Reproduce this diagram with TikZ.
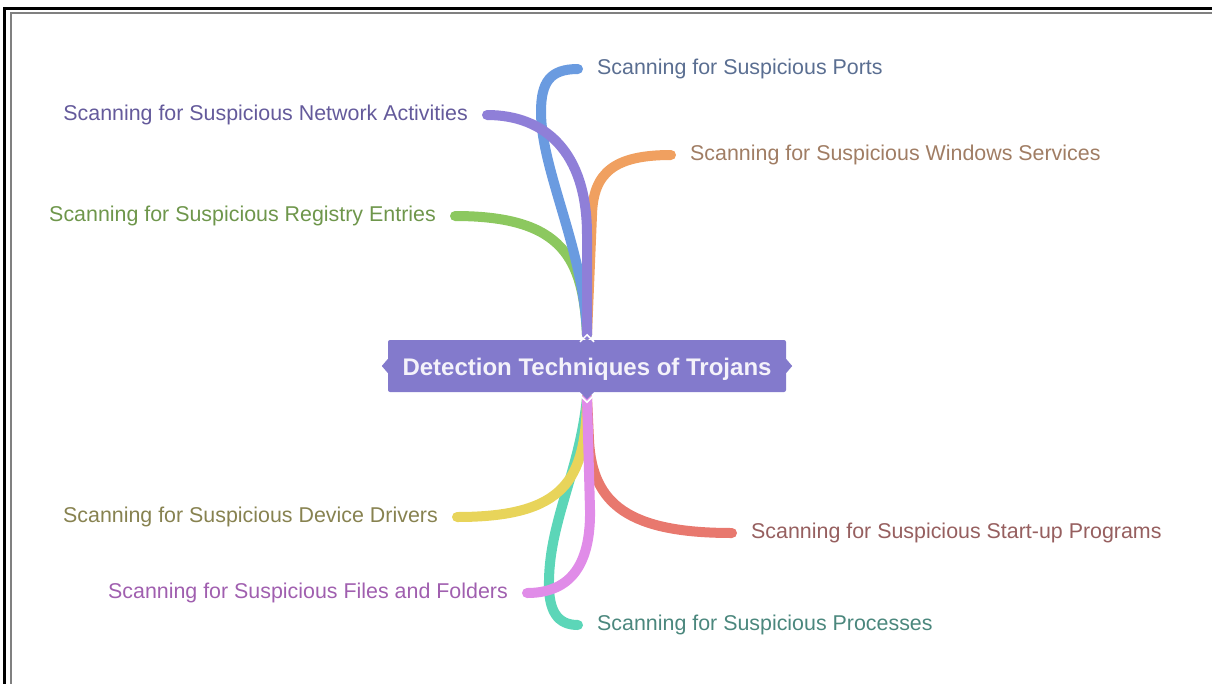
\documentclass[tikz,border=0pt]{standalone}
\usepackage{fontspec}
\setmainfont{Liberation Sans}
\usepackage{tikz}
\usetikzlibrary{calc}

\definecolor{boxpurple}{RGB}{131,122,204}
\definecolor{brblue}{RGB}{106,155,224}
\definecolor{brpurple}{RGB}{143,127,216}
\definecolor{brorange}{RGB}{240,160,96}
\definecolor{brgreen}{RGB}{140,200,95}
\definecolor{bryellow}{RGB}{232,212,90}
\definecolor{brred}{RGB}{232,120,110}
\definecolor{brpink}{RGB}{224,140,232}
\definecolor{brteal}{RGB}{92,214,184}
\definecolor{txblue}{RGB}{90,110,145}
\definecolor{txpurple}{RGB}{100,90,155}
\definecolor{txorange}{RGB}{160,125,100}
\definecolor{txgreen}{RGB}{110,150,75}
\definecolor{txyellow}{RGB}{135,130,80}
\definecolor{txred}{RGB}{150,95,95}
\definecolor{txpink}{RGB}{160,95,175}
\definecolor{txteal}{RGB}{75,135,125}

\begin{document}
\begin{tikzpicture}[x=1pt, y=-1pt,
    branch/.style={line width=10pt, line cap=round},
    leaf/.style={inner xsep=19pt, inner ysep=0pt, font=\fontsize{21.4}{25}\selectfont},
    rootbox/.style={fill=boxpurple, text={rgb,255:red,244;green,242;blue,250},
        rounded corners=2pt, minimum width=398pt, minimum height=52pt,
        text height=23.5pt, text depth=5pt,
        font=\bfseries\fontsize{24}{28}\selectfont}]
    \useasboundingbox (0,0) rectangle (1212,683);

    \draw[black, line width=3pt] (4.5,690) -- (4.5,8.5) -- (1220,8.5);
    \draw[gray, line width=2pt] (10.5,690) -- (10.5,13) -- (1220,13);

    \node[rootbox] (root) at (587,366) {Detection Techniques of Trojans};

    \node[leaf, anchor=west, text=txblue] (ports) at (578,69) {Scanning for Suspicious Ports};
    \node[leaf, anchor=east, text=txpurple] (network) at (487,115) {Scanning for Suspicious Network Activities};
    \node[leaf, anchor=west, text=txorange] (windows) at (671,155) {Scanning for Suspicious Windows Services};
    \node[leaf, anchor=east, text=txgreen] (registry) at (455,216) {Scanning for Suspicious Registry Entries};
    \node[leaf, anchor=east, text=txyellow] (drivers) at (457,517) {Scanning for Suspicious Device Drivers};
    \node[leaf, anchor=west, text=txred] (startup) at (732,533) {Scanning for Suspicious Start-up Programs};
    \node[leaf, anchor=east, text=txpink] (files) at (527,593) {Scanning for Suspicious Files and Folders};
    \node[leaf, anchor=west, text=txteal] (processes) at (578,625) {Scanning for Suspicious Processes};

    \coordinate (up) at ([yshift=5pt]root.north);
    \coordinate (down) at ([yshift=-5pt]root.south);

    \draw[branch, brgreen] (up) .. controls (583,260) and (565,216) .. (registry.east);
    \draw[branch, brorange] (up) -- (592,215) .. controls (593,172) and (615,155) .. (windows.west);
    \draw[branch, brblue] (up) .. controls (584,250) and (541,170) .. (541,112)
        .. controls (541,82) and (550,69) .. (ports.west);
    \draw[branch, brpurple] (up) -- (587,235) .. controls (587,152) and (545,115) .. (network.east);

    \draw[branch, brteal] (down) .. controls (580,470) and (550,520) .. (549,580)
        .. controls (548,612) and (558,625) .. (processes.west);
    \draw[branch, bryellow] (down) .. controls (586,480) and (565,517) .. (drivers.east);
    \draw[branch, brred] (down) -- (589,440) .. controls (592,505) and (630,533) .. (startup.west);
    \draw[branch, brpink] (down) -- (590,510) .. controls (591,577) and (560,593) .. (files.east);

    \fill[boxpurple] ($(root.west)+(0,-7)$) -- ($(root.west)+(-6,0)$) -- ($(root.west)+(0,7)$) -- cycle;
    \fill[boxpurple] ($(root.east)+(0,-7)$) -- ($(root.east)+(6,0)$) -- ($(root.east)+(0,7)$) -- cycle;
    \draw[white, line width=1.5pt] ($(root.north)+(-7,2)$) -- ($(root.north)+(0,-5)$) -- ($(root.north)+(7,2)$);
    \fill[boxpurple] ($(root.south)+(-7,0)$) -- ($(root.south)+(0,7)$) -- ($(root.south)+(7,0)$) -- cycle;
    \draw[white, line width=1.5pt] ($(root.south)+(-7,3)$) -- ($(root.south)+(0,10)$) -- ($(root.south)+(7,3)$);
\end{tikzpicture}
\end{document}
